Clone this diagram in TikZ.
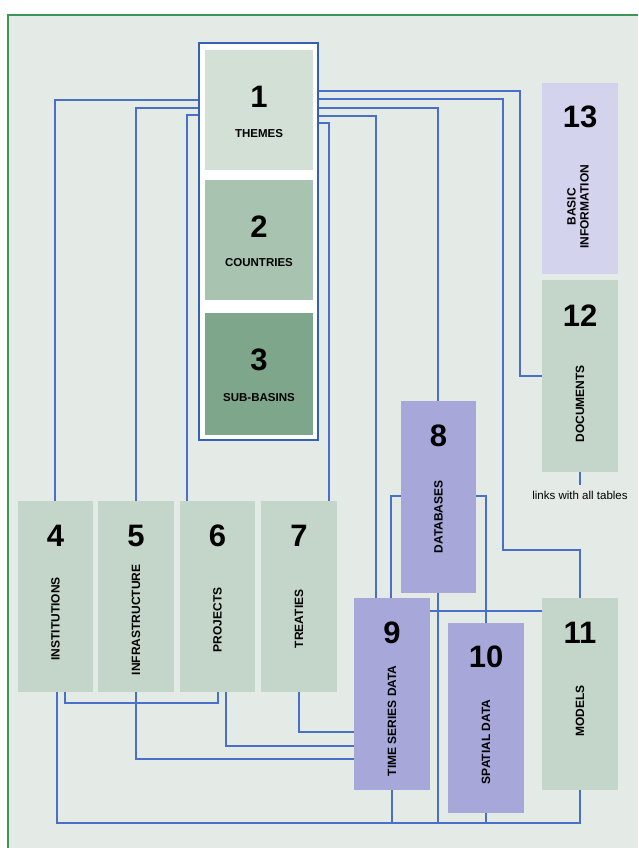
\documentclass[tikz,border=0pt]{standalone}
\usepackage{fontspec}
\setmainfont{Liberation Sans}
\usepackage{tikz}
\usetikzlibrary{positioning}
\definecolor{bgGrey}{RGB}{228,235,230}
\definecolor{frameGreen}{RGB}{60,150,85}
\definecolor{linkBlue}{RGB}{72,112,200}
\definecolor{groupBlue}{RGB}{52,96,184}
\definecolor{themeA}{RGB}{210,224,214}
\definecolor{themeB}{RGB}{168,196,176}
\definecolor{themeC}{RGB}{126,166,139}
\definecolor{tableGreen}{RGB}{195,214,201}
\definecolor{tableLilac}{RGB}{167,167,218}
\definecolor{infoLilac}{RGB}{211,211,238}
\tikzset{
  db/group/.style={rectangle, draw=groupBlue, fill=white, line width=2.4pt,
    inner sep=0pt, minimum width=119pt, minimum height=397pt},
  db/core/.style={rectangle, inner sep=0pt, minimum width=108pt,
    minimum height=120pt},
  db/table/.style={rectangle, inner sep=0pt, minimum width=76pt,
    minimum height=192pt},
  db/num/.style={font=\fontsize{31}{31}\selectfont\bfseries, inner sep=0pt},
  db/cap/.style={font=\fontsize{11.5}{12}\selectfont\bfseries, inner sep=0pt},
  db/name/.style={font=\fontsize{12}{13}\selectfont\bfseries, rotate=90,
    align=center, inner sep=0pt},
  db/note/.style={font=\fontsize{11.5}{12}\selectfont, inner xsep=0pt,
    inner ysep=6pt},
  db/link/.style={draw=linkBlue, line width=1.5pt}
}

\begin{document}
\begin{tikzpicture}[x=1pt, y=-1pt]
  % Page and frame
  \useasboundingbox (0,0) rectangle (638,848);
  \fill[white] (0,0) rectangle (638,848);
  \fill[bgGrey] (8,15) rectangle (638,848);
  \draw[frameGreen, line width=1.8pt] (8,848) -- (8,15) -- (638,15);

  % Core group: themes, countries, sub-basins
  \node[db/group] at (258.5,241.5) (grp) {};
  \node[db/core, fill=themeA] at (259,110) (b1) {};
  \node[db/core, fill=themeB] at (259,240) (b2) {};
  \node[db/core, fill=themeC, minimum height=122pt] at (259,374) (b3) {};
  \node[db/num] at ([yshift=-47pt]b1.north) (n1) {1};
  \node[db/cap] at ([yshift=-84pt]b1.north) (t1) {THEMES};
  \node[db/num] at ([yshift=-47pt]b2.north) (n2) {2};
  \node[db/cap] at ([yshift=-83pt]b2.north) (t2) {COUNTRIES};
  \node[db/num] at ([yshift=-47pt]b3.north) (n3) {3};
  \node[db/cap] at ([yshift=-85pt]b3.north) (t3) {SUB-BASINS};

  % Tables row 4 - 7
  \node[db/table, fill=tableGreen, minimum width=75pt, minimum height=191pt]
        at (55.5,596.5) (b4) {};
  \node[db/table, fill=tableGreen, minimum height=191pt]
        at (136,596.5) (b5) {};
  \node[db/table, fill=tableGreen, minimum width=75pt, minimum height=191pt]
        at (217.5,596.5) (b6) {};
  \node[db/table, fill=tableGreen, minimum height=191pt]
        at (299,596.5) (b7) {};
  \node[db/num]  at ([yshift=-35pt]b4.north) (n4) {4};
  \node[db/name] at ([yshift=-118pt]b4.north) (t4) {INSTITUTIONS};
  \node[db/num]  at ([yshift=-35pt]b5.north) (n5) {5};
  \node[db/name] at ([yshift=-119pt]b5.north) (t5) {INFRASTRUCTURE};
  \node[db/num]  at ([yshift=-35pt]b6.north) (n6) {6};
  \node[db/name] at ([yshift=-119pt]b6.north) (t6) {PROJECTS};
  \node[db/num]  at ([yshift=-35pt]b7.north) (n7) {7};
  \node[db/name] at ([yshift=-118pt]b7.north) (t7) {TREATIES};

  % Data tables 8 - 11
  \node[db/table, fill=tableLilac, minimum width=75pt] at (438.5,497) (b8) {};
  \node[db/table, fill=tableLilac] at (392,694) (b9) {};
  \node[db/table, fill=tableLilac, minimum height=190pt] at (486,718) (b10) {};
  \node[db/table, fill=tableGreen] at (580,694) (b11) {};
  \node[db/num]  at ([yshift=-35pt]b8.north) (n8) {8};
  \node[db/name] at ([yshift=-116pt]b8.north) (t8) {DATABASES};
  \node[db/num]  at ([yshift=-35pt]b9.north) (n9) {9};
  \node[db/name] at ([yshift=-123pt]b9.north) (t9) {TIME SERIES DATA};
  \node[db/num]  at ([yshift=-34pt]b10.north) (n10) {10};
  \node[db/name] at ([yshift=-119pt]b10.north) (t10) {SPATIAL DATA};
  \node[db/num]  at ([yshift=-35pt]b11.north) (n11) {11};
  \node[db/name] at ([yshift=-113pt]b11.north) (t11) {MODELS};

  % Side tables 12 - 13
  \node[db/table, fill=infoLilac, minimum height=191pt] at (580,178.5) (b13) {};
  \node[db/table, fill=tableGreen] at (580,376) (b12) {};
  \node[db/num]  at ([yshift=-34pt]b13.north) (n13) {13};
  \node[db/name] at ([xshift=-2pt, yshift=-124pt]b13.north) (t13)
        {BASIC\\INFORMATION};
  \node[db/num]  at ([yshift=-36pt]b12.north) (n12) {12};
  \node[db/name] at ([yshift=-124pt]b12.north) (t12) {DOCUMENTS};
  \node[db/note, below=13pt of b12] (links) {links with all tables};

  % Links from the core group
  \draw[db/link] ([yshift=-58pt]grp.north west) -| ([xshift=-0.5pt]b4.north);
  \draw[db/link] ([yshift=-66pt]grp.north west) -| (b5.north);
  \draw[db/link] ([yshift=-73pt]grp.north west) -| ([xshift=-30.5pt]b6.north);
  \draw[db/link] ([yshift=-49pt]grp.north east)
        -| ([xshift=-22pt]b12.west) -- (b12.west);
  \draw[db/link] ([yshift=-57pt]grp.north east)
        -| ([xshift=-77pt, yshift=48pt]b11.north) -| (b11.north);
  \draw[db/link] ([yshift=-66pt]grp.north east) -| ([xshift=-0.5pt]b8.north);
  \draw[db/link] ([yshift=-74pt]grp.north east) -| ([xshift=-16pt]b9.north);
  \draw[db/link] ([yshift=-81pt]grp.north east) -| ([xshift=30pt]b7.north);

  % Databases and data
  \draw[db/link] ([yshift=-95pt]b8.north west) -| ([xshift=-1pt]b9.north);
  \draw[db/link] ([yshift=-95pt]b8.north east) -| (b10.north);
  \draw[db/link] ([yshift=-13pt]b9.north east) -- ([yshift=-13pt]b11.north west);

  % Lower links into time series
  \draw[db/link] ([xshift=9.5pt]b4.south) |- ([xshift=0.5pt, yshift=-11pt]b6.south)
        -- ([xshift=0.5pt]b6.south);
  \draw[db/link] (b5.south) |- ([yshift=-65pt]b9.west);
  \draw[db/link] ([xshift=8.5pt]b6.south) |- ([yshift=-52pt]b9.west);
  \draw[db/link] (b7.south) |- ([yshift=-38pt]b9.west);

  % Bottom bus
  \coordinate (bus) at ([yshift=-10pt]b10.south);
  \draw[db/link] ([xshift=1.5pt]b4.south) |- (b11.south |- bus) -- (b11.south);
  \draw[db/link] (b9.south) -- (b9.south |- bus);
  \draw[db/link] ([xshift=-0.5pt]b8.south) -- ([xshift=-0.5pt]b8.south |- bus);
  \draw[db/link] (b10.south) -- (bus);

  % Documents note
  \draw[db/link] (b12) -- (links);
\end{tikzpicture}
\end{document}
